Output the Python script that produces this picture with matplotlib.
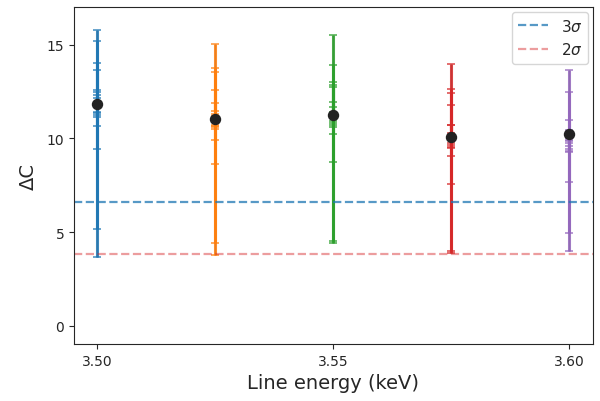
import matplotlib
matplotlib.use("Agg")
import matplotlib.pyplot as plt
import seaborn as sns
import numpy as np

sns.set_style("ticks")
plt.rcParams['font.family'] = ['DejaVu Sans']

energies = [3.500, 3.525, 3.550, 3.575, 3.600]
colors = ["C0", "C1", "C2", "C3", "C4"]
means = [11.83, 11.03, 11.26, 10.05, 10.23]

lows = [
    [3.68, 5.17, 9.45, 10.67, 11.15, 11.26, 11.35, 11.40],
    [3.80, 4.40, 8.63, 9.93, 10.50, 10.59, 10.67, 10.70],
    [4.42, 4.55, 8.75, 10.21, 10.62, 10.71, 10.80, 10.91],
    [3.89, 4.01, 7.57, 9.04, 9.47, 9.55, 9.64, 9.75],
    [4.01, 4.94, 7.69, 9.25, 9.34, 9.43, 9.61, 9.73],
]
highs = [
    [15.77, 15.17, 14.03, 13.64, 12.59, 12.45, 12.31, 12.15],
    [15.02, 13.75, 13.55, 12.59, 11.88, 11.47, 11.30, 11.20],
    [15.50, 13.92, 13.02, 12.86, 12.72, 11.95, 11.65, 11.40],
    [13.96, 12.63, 12.40, 11.79, 10.71, 10.71, 10.30, 10.20],
    [13.66, 12.45, 10.97, 10.46, 10.09, 10.00, 9.91, 9.85],
]
sig3 = 6.63
sig2 = 3.84

fig = plt.figure(figsize=(6.0, 4.02), dpi=100)
ax = fig.add_axes([0.1233, 0.1418, 0.865, 0.838])

for e, c, lo, hi, m in zip(energies, colors, lows, highs, means):
    lo = np.array(lo); hi = np.array(hi)
    ax.errorbar([e], [(lo.min() + hi.max()) / 2], yerr=[[(hi.max() - lo.min()) / 2]],
                fmt='none', ecolor='grey', elinewidth=1.0, capsize=0, zorder=1)
    ax.errorbar(np.full(len(lo), e), (lo + hi) / 2, yerr=(hi - lo) / 2,
                fmt='none', ecolor=c, elinewidth=2.2, capsize=3, capthick=1.1,
                alpha=0.85, zorder=2)
    ax.plot([e], [m], 'o', color='#222222', markersize=7.2, zorder=5)

ax.axhline(sig3, color='C0', ls='--', lw=1.6, alpha=0.75, label=r'3$\sigma$')
ax.axhline(sig2, color='C3', ls='--', lw=1.6, alpha=0.45, label=r'2$\sigma$')

ax.set_xlim(3.4951, 3.6051)
ax.set_ylim(-0.96, 17.0)
ax.set_xticks([3.50, 3.55, 3.60])
ax.set_xticklabels(["3.50", "3.55", "3.60"])
ax.set_yticks([0, 5, 10, 15])
ax.tick_params(labelsize=10)
ax.set_xlabel("Line energy (keV)", fontsize=14)
ax.set_ylabel("ΔC", fontsize=14, labelpad=6)
for s in ax.spines.values():
    s.set_visible(True)
ax.legend(loc='upper right', fontsize=11, borderaxespad=0.3)

fig.savefig("out.png", dpi=100)
